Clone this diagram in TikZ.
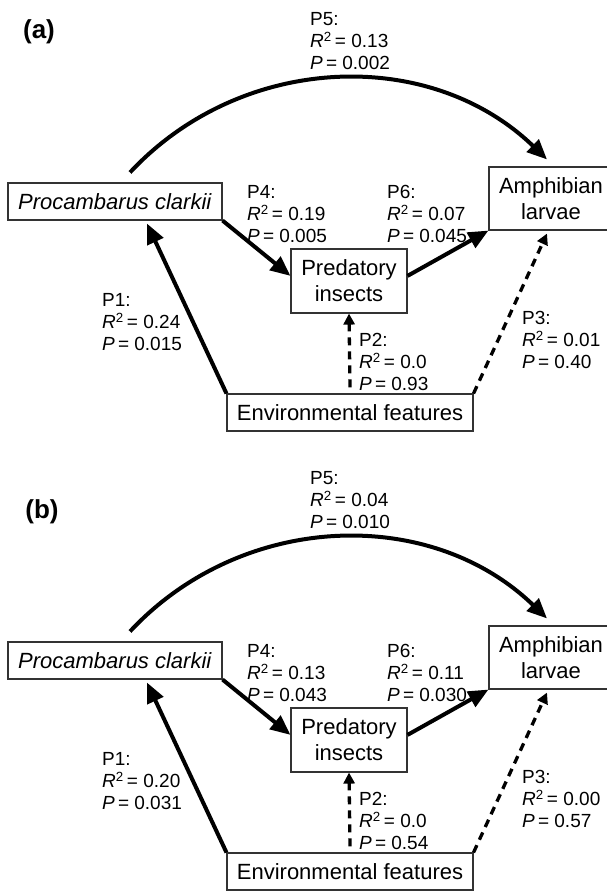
\documentclass[tikz,border=0pt]{standalone}
\usepackage{fontspec}
\setmainfont{Liberation Sans}
\usetikzlibrary{arrows.meta,positioning}

\newcommand{\pathlab}[3]{#1:\\\textit{R}\textsuperscript{2}\,= #2\\\textit{P}\,= #3}

\begin{document}
\begin{tikzpicture}[
  x=1pt, y=-1pt,
  box/.style={draw=black!80, line width=1.1pt, inner sep=0pt, align=center,
              font=\fontsize{22}{26}\selectfont},
  lab/.style={anchor=west, align=left, inner sep=0pt,
              font=\fontsize{19}{22}\selectfont},
  tag/.style={font=\fontsize{26}{30}\selectfont\bfseries},
  strong/.style={line width=4pt, -{Triangle[length=20pt,width=17pt]}},
  weak/.style={line width=3.3pt, dash pattern=on 8pt off 6pt,
               -{Triangle[length=11pt,width=11pt]}}
]
  \useasboundingbox (0,0) rectangle (607,891);

  % (a)
  \node[tag] (taga) at (39,32) {(a)};
  \node[box, minimum width=214pt, minimum height=37pt] (pcA) at (115,201.5) {\textit{Procambarus clarkii}};
  \node[box, minimum width=124pt, minimum height=63pt] (amphA) at (551,198.5) {Amphibian\\larvae};
  \node[box, minimum width=116pt, minimum height=64pt] (predA) at (349,281) {Predatory\\insects};
  \node[box, minimum width=246pt, minimum height=37pt] (envA) at (350,412.5) {Environmental features};

  \node[lab] (lab5A) at (310,41) {\pathlab{P5}{0.13}{0.002}};
  \node[lab] (lab4A) at (247,214) {\pathlab{P4}{0.19}{0.005}};
  \node[lab] (lab6A) at (387,214) {\pathlab{P6}{0.07}{0.045}};
  \node[lab] (lab1A) at (102,322) {\pathlab{P1}{0.24}{0.015}};
  \node[lab] (lab2A) at (359,362) {\pathlab{P2}{0.0}{0.93}};
  \node[lab] (lab3A) at (522,340) {\pathlab{P3}{0.01}{0.40}};

  \draw[strong] ([xshift=15pt,yshift=10pt]pcA.north) to[out=47,in=136] ([xshift=-4pt,yshift=7pt]amphA.north);
  \draw[strong] (pcA.south east) -- (predA.175);
  \draw[strong] (predA.5) -- (amphA.south west);
  \draw[strong] (envA.north west) -- ([xshift=32pt,yshift=-3pt]pcA.south);
  \draw[weak] ([yshift=6pt]envA.north) -- (predA.south);
  \draw[weak] (envA.north east) -- ([xshift=-4pt,yshift=-3pt]amphA.south);

  % (b)
  \begin{scope}[yshift=-459pt]
  \node[tag] (tagb) at (42,53) {(b)};
  \node[box, minimum width=214pt, minimum height=37pt] (pcB) at (115,201.5) {\textit{Procambarus clarkii}};
  \node[box, minimum width=124pt, minimum height=63pt] (amphB) at (551,198.5) {Amphibian\\larvae};
  \node[box, minimum width=116pt, minimum height=64pt] (predB) at (349,281) {Predatory\\insects};
  \node[box, minimum width=246pt, minimum height=37pt] (envB) at (350,412.5) {Environmental features};

  \node[lab] (lab5B) at (310,41) {\pathlab{P5}{0.04}{0.010}};
  \node[lab] (lab4B) at (247,214) {\pathlab{P4}{0.13}{0.043}};
  \node[lab] (lab6B) at (387,214) {\pathlab{P6}{0.11}{0.030}};
  \node[lab] (lab1B) at (102,322) {\pathlab{P1}{0.20}{0.031}};
  \node[lab] (lab2B) at (359,362) {\pathlab{P2}{0.0}{0.54}};
  \node[lab] (lab3B) at (522,340) {\pathlab{P3}{0.00}{0.57}};

  \draw[strong] ([xshift=15pt,yshift=10pt]pcB.north) to[out=47,in=136] ([xshift=-4pt,yshift=7pt]amphB.north);
  \draw[strong] (pcB.south east) -- (predB.175);
  \draw[strong] (predB.5) -- (amphB.south west);
  \draw[strong] (envB.north west) -- ([xshift=32pt,yshift=-3pt]pcB.south);
  \draw[weak] ([yshift=6pt]envB.north) -- (predB.south);
  \draw[weak] (envB.north east) -- ([xshift=-4pt,yshift=-3pt]amphB.south);
  \end{scope}
\end{tikzpicture}
\end{document}
